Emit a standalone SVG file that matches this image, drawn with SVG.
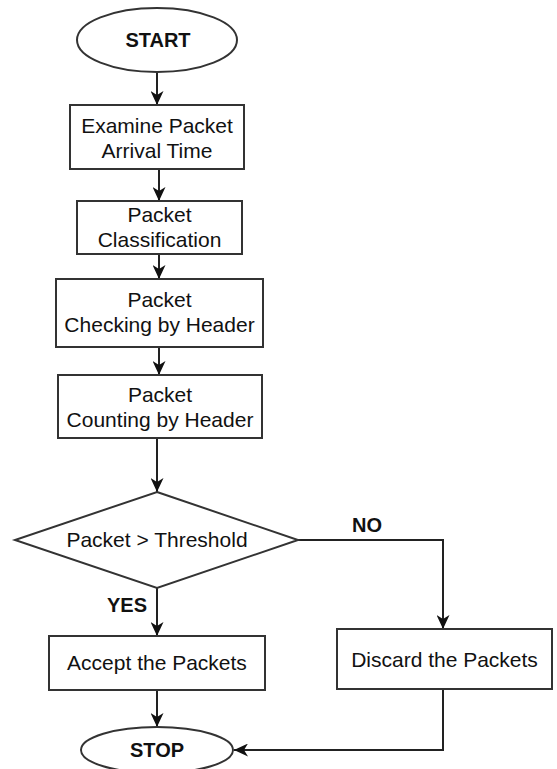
<svg xmlns="http://www.w3.org/2000/svg" width="557" height="769" viewBox="0 0 557 769">
  <defs>
    <marker id="arrow" viewBox="0 0 14 13" refX="14" refY="6.5" markerWidth="14" markerHeight="13" markerUnits="userSpaceOnUse" orient="auto">
      <path d="M0,0 L14,6.5 L0,13 L4,6.5 z" fill="#111"/>
    </marker>
  </defs>
  <style>
    .shape { fill: #ffffff; stroke: #333333; stroke-width: 2; }
    .edge { fill: none; stroke: #222222; stroke-width: 2; marker-end: url(#arrow); }
    .label { font-family: "Liberation Sans", Arial, sans-serif; font-size: 21px; fill: #111; text-anchor: middle; }
    .bold { font-family: "Liberation Sans", Arial, sans-serif; font-size: 20px; font-weight: bold; fill: #111; text-anchor: middle; }
  </style>
  <rect width="557" height="769" fill="#ffffff"/>

  <!-- connectors -->
  <g id="connectors">
    <path class="edge" d="M157,72 V105"/>
    <path class="edge" d="M159,169 V201"/>
    <path class="edge" d="M159,254 V279"/>
    <path class="edge" d="M159,347 V375"/>
    <path class="edge" d="M157,438 V492"/>
    <path class="edge" d="M157,588 V636"/>
    <path class="edge" d="M298,540 H443 V629"/>
    <path class="edge" d="M157,690 V727"/>
    <path class="edge" d="M443,689 V750 H234"/>
    <text class="bold" x="367" y="532">NO</text>
    <text class="bold" x="127" y="612">YES</text>
  </g>

  <g id="start">
    <ellipse class="shape" cx="157" cy="40" rx="80" ry="32"/>
    <text class="bold" x="158" y="47">START</text>
  </g>

  <g id="examine">
    <rect class="shape" x="70" y="105" width="174" height="64"/>
    <text class="label" x="157" y="133">Examine Packet</text>
    <text class="label" x="157" y="158">Arrival Time</text>
  </g>

  <g id="classify">
    <rect class="shape" x="77" y="201" width="165" height="53"/>
    <text class="label" x="159.5" y="222">Packet</text>
    <text class="label" x="159.5" y="247">Classification</text>
  </g>

  <g id="checking">
    <rect class="shape" x="56" y="279" width="207" height="68"/>
    <text class="label" x="159.5" y="307">Packet</text>
    <text class="label" x="159.5" y="332">Checking by Header</text>
  </g>

  <g id="counting">
    <rect class="shape" x="58" y="375" width="204" height="63"/>
    <text class="label" x="160" y="402">Packet</text>
    <text class="label" x="160" y="427">Counting by Header</text>
  </g>

  <g id="decision">
    <polygon class="shape" points="157,492 298,540 157,588 15,540"/>
    <text class="label" x="157" y="547">Packet &gt; Threshold</text>
  </g>

  <g id="accept">
    <rect class="shape" x="49" y="636" width="216" height="54"/>
    <text class="label" x="157" y="670">Accept the Packets</text>
  </g>

  <g id="discard">
    <rect class="shape" x="337" y="629" width="215" height="60"/>
    <text class="label" x="444.5" y="667">Discard the Packets</text>
  </g>

  <g id="stop">
    <ellipse class="shape" cx="157" cy="750" rx="76" ry="23"/>
    <text class="bold" x="157" y="757">STOP</text>
  </g>
</svg>
